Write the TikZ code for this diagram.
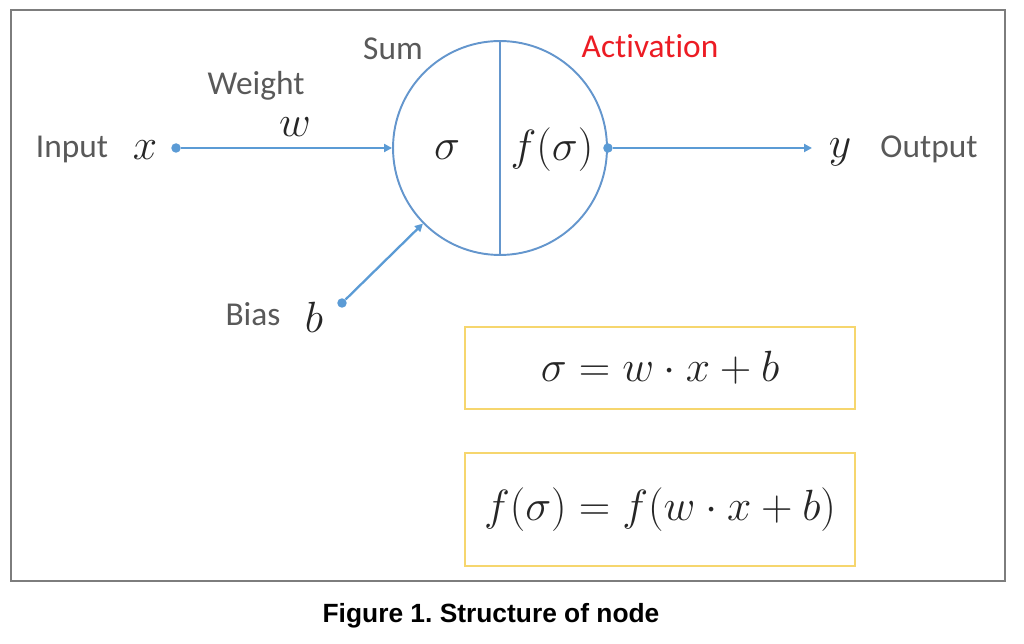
\documentclass[tikz,border=0pt]{standalone}
\usepackage{fontspec}
\setmainfont{Carlito}[Ligatures=NoCommon]
\newfontfamily\capfont{Liberation Sans}
\usetikzlibrary{arrows.meta}

\definecolor{lineblue}{RGB}{91,155,213}
\definecolor{ringblue}{RGB}{100,150,205}
\definecolor{txtgray}{RGB}{89,89,89}
\definecolor{boxgold}{RGB}{246,214,110}
\definecolor{actred}{RGB}{236,28,36}
\definecolor{framegray}{RGB}{125,125,125}

\tikzset{
  lbl/.style={text=txtgray, inner sep=1pt, font=\fontsize{19}{22}\selectfont},
  sym/.style={text=black!85, inner sep=1pt, font=\fontsize{24}{28}\selectfont},
  dot/.style={circle, fill=lineblue, inner sep=0pt, minimum size=5.4pt},
  wire/.style={draw=lineblue, line width=1.3pt, -{Triangle[length=4.5pt,width=4.5pt]}},
  eqbox/.style={draw=boxgold, line width=1.5pt, minimum width=7.8cm, text=black!85,
    font=\fontsize{24.5}{28}\selectfont},
}

\begin{document}
\begin{tikzpicture}[x=0.02cm, y=-0.02cm]
  \useasboundingbox (0,0) rectangle (1024,644);

  % Frame
  \draw[framegray, line width=0.6pt] (11,10) rectangle (1005,581);

  % Neuron
  \node[circle, draw=ringblue, line width=1.1pt, minimum size=4.28cm] (neuron) at (500,148) {};
  \draw[ringblue, line width=1.1pt] (neuron.north) -- (neuron.south);
  \node[sym] (sigma) at (447,150) {$\sigma$};
  \node[sym] (fsigma) at (552,150) {$f(\sigma)$};
  \node[lbl] (sum) at (393,49) {Sum};
  \node[lbl, text=actred] (act) at (650,46) {Activation};

  % Input branch
  \node[dot] (xdot) at (176,148) {};
  \node[sym] (xlab) at (145,150) {$x$};
  \node[lbl] (input) at (72,149) {Input};
  \node[sym] (wlab) at (295,127) {$w$};
  \node[lbl] (weight) at (256,86) {Weight};
  \draw[wire] (xdot) -- (neuron.west);

  % Bias branch
  \node[dot] (bdot) at (342,303) {};
  \node[sym] (blab) at (314,317) {$b$};
  \node[lbl] (bias) at (253,314) {Bias};
  \draw[wire] (bdot) -- (neuron);

  % Output branch
  \node[dot] (ydot) at (neuron.east) {};
  \coordinate (yend) at (812,148);
  \node[sym] (ylab) at (840,152) {$y$};
  \node[lbl] (output) at (929,149) {Output};
  \draw[wire] (ydot) -- (yend);

  % Formulas
  \node[eqbox, minimum height=1.64cm] (eqsum) at (660,368) {$\sigma = w\cdot x + b$};
  \node[eqbox, minimum height=2.26cm] (eqact) at (660,509.5) {$f(\sigma) = f(w\cdot x + b)$};

  % Caption
  \node[font=\capfont\bfseries\fontsize{15}{18}\selectfont] (caption) at (491,616) {Figure 1.\ Structure of node};
\end{tikzpicture}
\end{document}
